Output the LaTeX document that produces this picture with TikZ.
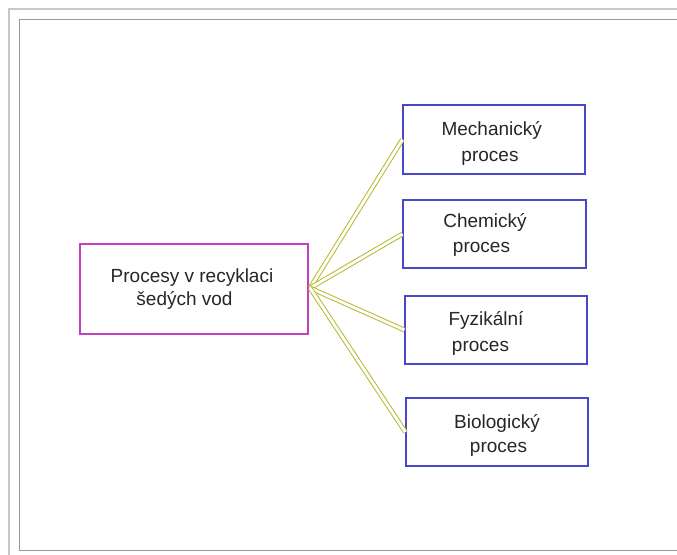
\documentclass[tikz,border=0pt]{standalone}
\usepackage{fontspec}
\setmainfont{Liberation Sans}
\definecolor{magbox}{HTML}{C040C0}
\definecolor{bluebox}{HTML}{4848C8}
\definecolor{olive}{HTML}{B8B830}
\definecolor{frameout}{HTML}{C8C8C8}
\definecolor{framein}{HTML}{999999}
\begin{document}
\begin{tikzpicture}[x=1pt,y=-1pt,
  mainbox/.style={draw=magbox,line width=1.2pt,inner sep=0pt,minimum width=228pt,minimum height=90pt},
  procbox/.style={draw=bluebox,line width=1.2pt,inner sep=0pt,minimum width=182pt,minimum height=68pt},
  txt/.style={anchor=base,inner sep=0pt,font=\fontsize{19}{23}\selectfont,text=black!85},
  link/.style={draw=olive,line width=1pt,double=white,double distance=2.8pt}]
\useasboundingbox (0,0) rectangle (677,554);
% frames
\draw[frameout,line width=2pt] (685,9) -- (9,9) -- (9,562);
\draw[framein,line width=1pt] (685,19) -- (19,19) -- (19,550) -- (685,550);
% boxes
\node[mainbox] (main) at (194,289) {};
\node[procbox,minimum height=69pt] (mech) at (494,139.5) {};
\node[procbox,minimum width=183pt] (chem) at (494.5,234) {};
\node[procbox] (fyz) at (496,330) {};
\node[procbox] (bio) at (497,432) {};
% texts
\node[txt] (main1) at (192,282) {Procesy v recyklaci};
\node[txt] (main2) at (184.5,305) {šedých vod};
\node[txt] (mech1) at (491.7,135) {Mechanický};
\node[txt] (mech2) at (490,161) {proces};
\node[txt] (chem1) at (485,227) {Chemický};
\node[txt] (chem2) at (481.5,252) {proces};
\node[txt] (fyz1) at (486,325) {Fyzikální};
\node[txt] (fyz2) at (480.5,351) {proces};
\node[txt] (bio1) at (497,428) {Biologický};
\node[txt] (bio2) at (498.5,452) {proces};
% connectors
\coordinate (hub) at (310,288);
\draw[link] (hub) -- (mech.west);
\draw[link] (hub) -- (chem.west);
\draw[link] (hub) -- (fyz.west);
\draw[link] (hub) -- (bio.west);
\end{tikzpicture}
\end{document}
